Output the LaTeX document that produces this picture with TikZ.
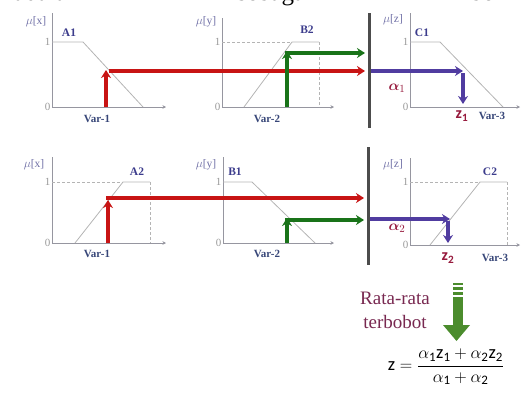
\documentclass[tikz,border=0pt]{standalone}
\usepackage{amsmath,amssymb}
\usepackage{fontspec}
\setmainfont{Liberation Serif}
\setsansfont{Carlito}
\usetikzlibrary{arrows.meta}
\usepackage{xcolor}
\definecolor{axisc}{RGB}{150,150,160}
\definecolor{mfc}{RGB}{180,180,180}
\definecolor{muc}{RGB}{110,110,165}
\definecolor{setc}{RGB}{60,60,140}
\definecolor{varc}{RGB}{55,70,120}
\definecolor{redc}{RGB}{200,20,20}
\definecolor{greenc}{RGB}{25,115,25}
\definecolor{bluec}{RGB}{80,60,160}
\definecolor{maroonc}{RGB}{150,25,60}
\definecolor{blockc}{RGB}{75,140,45}
\definecolor{notec}{RGB}{120,40,80}

\begin{document}
\begin{tikzpicture}[x=1pt,y=-1pt,>={Stealth[length=8pt,width=10pt]},line cap=butt,
  axis/.style={axisc,line width=0.8pt},
  axisarr/.style={axisc,line width=0.8pt,-{Stealth[length=3.5pt,width=3.5pt]}},
  mf/.style={mfc,line width=0.8pt},
  guide/.style={mfc,densely dashed,line width=0.7pt},
  tick/.style={text=gray!80,inner sep=1.5pt,font=\fontsize{11}{11}\selectfont},
  mulab/.style={text=muc,inner sep=0pt,font=\fontsize{11.5}{12}\selectfont},
  setlab/.style={text=setc,inner sep=0pt,font=\bfseries\fontsize{11.5}{12}\selectfont},
  varlab/.style={text=varc,inner sep=0pt,font=\bfseries\fontsize{11}{11}\selectfont},
  redarr/.style={redc,line width=3.5pt,->},
  greenarr/.style={greenc,line width=3.5pt,->},
  bluearr/.style={bluec,line width=3.5pt,->},
  barline/.style={gray!60!black,line width=3pt},
  alab/.style={text=maroonc,inner sep=0pt,font=\bfseries\fontsize{15}{15}\selectfont},
  zlab/.style={text=maroonc,inner sep=0pt,font=\bfseries\sffamily\fontsize{16}{16}\selectfont},
  toptext/.style={inner sep=0pt,font=\fontsize{25}{25}\selectfont}]
\path[use as bounding box,clip] (0,0) rectangle (522,394);

% cut-off text line above
\node[toptext,anchor=base west] (w1) at (14,0.5) {adalah};
\node[toptext,anchor=base west] (w2) at (237,0.5) {sebagai};
\node[toptext,anchor=base west] (w3) at (470,0.5) {berikut};

% ---- rule 1 ----
% panel x
\draw[axis] (52,107) -- (52,13);
\draw[axisarr] (52,107) -- (166,107);
\node[tick,left] (t1a) at (52,42) {1};
\node[tick,left] (t0a) at (52,107) {0};
\node[mulab] (mux1) at (36,22) {$\mu$[x]};
\node[setlab] (A1) at (69,33) {A1};
\draw[mf] (52,42) -- (83,42) -- (143,107);
\node[varlab] (var1a) at (97,119) {Var-1};
% panel y
\draw[axis] (222,107) -- (222,18);
\draw[axisarr] (222,107) -- (334,107);
\node[tick,left] (t1b) at (222,42) {1};
\node[tick,left] (t0b) at (222,107) {0};
\node[mulab] (muy1) at (206,22) {$\mu$[y]};
\node[setlab] (B2) at (307,30) {B2};
\draw[guide] (222,42) -- (292,42);
\draw[mf] (244,107) -- (292,42) -- (319,42);
\draw[guide] (319,42) -- (319,107);
\node[varlab] (var2a) at (267,119) {Var-2};
% panel z
\draw[axis] (410,107) -- (410,13);
\draw[axisarr] (410,107) -- (520,107);
\node[tick,left] (t1c) at (410,42) {1};
\node[tick,left] (t0c) at (410,107) {0};
\node[mulab] (muz1) at (393,20) {$\mu$[z]};
\node[setlab] (C1) at (422,33) {C1};
\draw[mf] (410,42) -- (440,42) -- (503,107);
\node[varlab] (var3a) at (492,116) {Var-3};
% min bar
\draw[barline] (369,13) -- (369,128);
\coordinate (in1r) at (365,71);
\coordinate (in1g) at (365,53);
% inputs
\draw[redarr] (106,107) -- (106,70);
\draw[redarr] (109,71) -- (in1r);
\draw[greenarr] (287,107) -- (287,51);
\draw[greenarr] (285.25,53) -- (in1g);
% output
\coordinate (cut1) at (463,71);
\draw[bluearr] (371,71) -- (cut1);
\draw[bluearr] (463,73) -- (463,104);
\node[alab] (a1) at (397,88) {$\boldsymbol{\alpha}_{1}$};
\node[zlab] (z1) at (462,116) {z\textsubscript{1}};

% ---- rule 2 ----
% panel x
\draw[axis] (52,243) -- (52,157);
\draw[axisarr] (52,243) -- (166,243);
\node[tick,left] (t1d) at (52,182) {1};
\node[tick,left] (t0d) at (52,243) {0};
\node[mulab] (mux2) at (34,165) {$\mu$[x]};
\node[setlab] (A2) at (137,172) {A2};
\draw[guide] (52,182) -- (123,182);
\draw[mf] (75,243) -- (123,182) -- (150,182);
\draw[guide] (150,182) -- (150,243);
\node[varlab] (var1b) at (97,254) {Var-1};
% panel y
\draw[axis] (223,243) -- (223,157);
\draw[axisarr] (223,243) -- (334,243);
\node[tick,left] (t1e) at (223,182) {1};
\node[tick,left] (t0e) at (223,243) {0};
\node[mulab] (muy2) at (206,165) {$\mu$[y]};
\node[setlab] (B1) at (235,172) {B1};
\draw[mf] (223,182) -- (252,182) -- (315,243);
\node[varlab] (var2b) at (267,254) {Var-2};
% panel z
\draw[axis] (410,245) -- (410,158);
\draw[axisarr] (410,245) -- (520,245);
\node[tick,left] (t1f) at (410,182) {1};
\node[tick,left] (t0f) at (410,245) {0};
\node[mulab] (muz2) at (393,165) {$\mu$[z]};
\node[setlab] (C2) at (490,172) {C2};
\draw[guide] (410,182) -- (480,182);
\draw[mf] (430,245) -- (480,182) -- (507,182);
\draw[guide] (507,182) -- (507,245);
\node[varlab] (var3b) at (495,258) {Var-3};
% min bar
\draw[barline] (368,147) -- (368,265);
\coordinate (in2r) at (364,198);
\coordinate (in2g) at (364,220);
% inputs
\draw[redarr] (108,243) -- (108,200);
\draw[redarr] (106.25,198) -- (in2r);
\draw[greenarr] (287,243) -- (287,218);
\draw[greenarr] (285.25,220) -- (in2g);
% output
\coordinate (cut2) at (450,219);
\draw[bluearr] (370,219) -- (cut2);
\draw[bluearr] (448,221) -- (448,243);
\node[alab] (a2) at (397,228) {$\boldsymbol{\alpha}_{2}$};
\node[zlab] (z2) at (448,258) {z\textsubscript{2}};

% ---- defuzzification ----
\node[text=notec,align=center,inner sep=0pt,font=\fontsize{19}{24}\selectfont] (note) at (395,310) {Rata-rata\\terbobot};
\fill[blockc] (453,283) rectangle (463,285);
\fill[blockc] (453,287) rectangle (463,289.5);
\fill[blockc] (453,291.5) rectangle (463,294.5);
\fill[blockc] (453,296.5) rectangle (463,326);
\fill[blockc] (443,325) -- (470,325) -- (456.5,341) -- cycle;
\node[inner sep=0pt,font=\fontsize{18.5}{20}\selectfont] (zform) at (446,367)
  {$\textsf{z} = \dfrac{\alpha_{\textsf{1}}\textsf{z}_{\textsf{1}} + \alpha_{\textsf{2}}\textsf{z}_{\textsf{2}}}{\alpha_{\textsf{1}} + \alpha_{\textsf{2}}}$};
\end{tikzpicture}
\end{document}
